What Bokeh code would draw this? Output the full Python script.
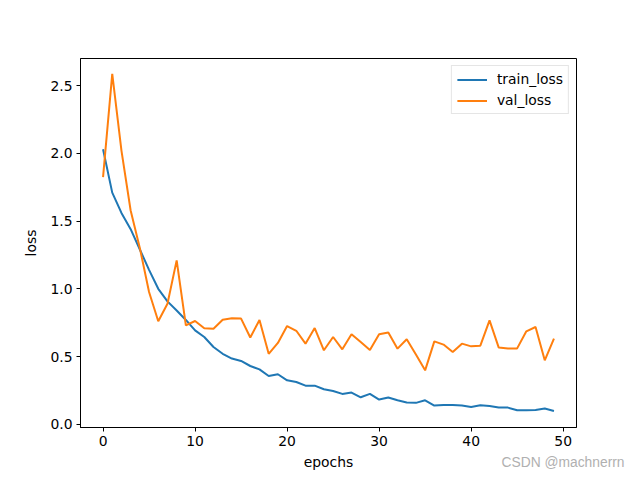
from bokeh.plotting import figure
from bokeh.models import Range1d, Legend, LegendItem, Title, FixedTicker, CustomJSTickFormatter
from bokeh.embed import file_html
from bokeh.resources import INLINE

epochs = list(range(50))
train_loss = [2.03, 1.71, 1.56, 1.44, 1.29, 1.14, 1.00, 0.907, 0.84, 0.77,
              0.693, 0.644, 0.57, 0.52, 0.485, 0.467, 0.43, 0.405, 0.356, 0.369,
              0.324, 0.312, 0.285, 0.285, 0.258, 0.246, 0.224, 0.234, 0.199, 0.224,
              0.182, 0.197, 0.177, 0.16, 0.158, 0.177, 0.138, 0.143, 0.143, 0.138,
              0.128, 0.14, 0.135, 0.123, 0.123, 0.103, 0.103, 0.106, 0.116, 0.098]
val_loss = [1.824, 2.586, 2.02, 1.578, 1.30, 0.976, 0.76, 0.89, 1.21, 0.73,
            0.762, 0.708, 0.705, 0.772, 0.782, 0.78, 0.64, 0.77, 0.52, 0.60,
            0.725, 0.69, 0.595, 0.71, 0.546, 0.644, 0.553, 0.664, 0.607, 0.548,
            0.664, 0.678, 0.558, 0.627, 0.515, 0.398, 0.612, 0.588, 0.533, 0.595,
            0.575, 0.58, 0.767, 0.566, 0.56, 0.56, 0.686, 0.718, 0.472, 0.632]
x_ticks = [0, 10, 20, 30, 40, 50]
y_ticks = [0.0, 0.5, 1.0, 1.5, 2.0, 2.5]
watermark = "CSDN @machnerrn"

FONT = "DejaVu Sans"
FS = "13.9px"

p = figure(width=640, height=480, output_backend="svg", toolbar_location=None,
           x_range=Range1d(-2.45, 51.45), y_range=Range1d(-0.024, 2.70),
           min_border_left=80, min_border_right=64, min_border_top=58, min_border_bottom=53)
p.grid.visible = False
p.outline_line_color = "black"
p.outline_line_width = 1
p.background_fill_color = "white"
p.border_fill_color = "white"

for ax in (p.xaxis[0], p.yaxis[0]):
    ax.minor_tick_line_color = None
    ax.major_tick_in = 0
    ax.major_tick_out = 4
    ax.major_label_standoff = 4
    ax.axis_line_color = "black"
    ax.major_label_text_font = FONT
    ax.major_label_text_font_size = FS
    ax.major_label_text_color = "black"
    ax.axis_label_text_font = FONT
    ax.axis_label_text_font_size = FS
    ax.axis_label_text_font_style = "normal"
    ax.axis_label_text_color = "black"

p.xaxis.ticker = FixedTicker(ticks=x_ticks)
p.yaxis.ticker = FixedTicker(ticks=y_ticks)
p.yaxis.formatter = CustomJSTickFormatter(code="return tick.toFixed(1);")
p.xaxis.axis_label = "epochs"
p.yaxis.axis_label = "loss"
p.xaxis.axis_label_standoff = 5
p.yaxis.axis_label_standoff = 8

r1 = p.line(epochs, train_loss, color="#1f77b4", line_width=2)
r2 = p.line(epochs, val_loss, color="#ff7f0e", line_width=2)

legend = Legend(items=[LegendItem(label="train_loss", renderers=[r1]),
                       LegendItem(label="val_loss", renderers=[r2])],
                location="top_right")
legend.label_text_font = FONT
legend.label_text_font_size = FS
legend.label_text_color = "black"
legend.border_line_color = "#cccccc"
legend.background_fill_alpha = 0.8
legend.glyph_width = 30
legend.glyph_height = 15
legend.spacing = 5
legend.padding = 5
legend.margin = 7
legend.label_standoff = 10
p.add_layout(legend)

try:
    wm = Title(text=watermark, align="right", vertical_align="top", offset=-48, standoff=-36,
               text_font="Liberation Sans", text_font_size="13.8px", text_font_style="normal",
               text_color="#b0b0b0")
except Exception:
    wm = Title(text=watermark, align="right", vertical_align="top", offset=-48, standoff=0,
               text_font="Liberation Sans", text_font_size="13.8px", text_font_style="normal",
               text_color="#b0b0b0")
p.add_layout(wm, "below")

open("out.html", "w").write(file_html(p, INLINE))
